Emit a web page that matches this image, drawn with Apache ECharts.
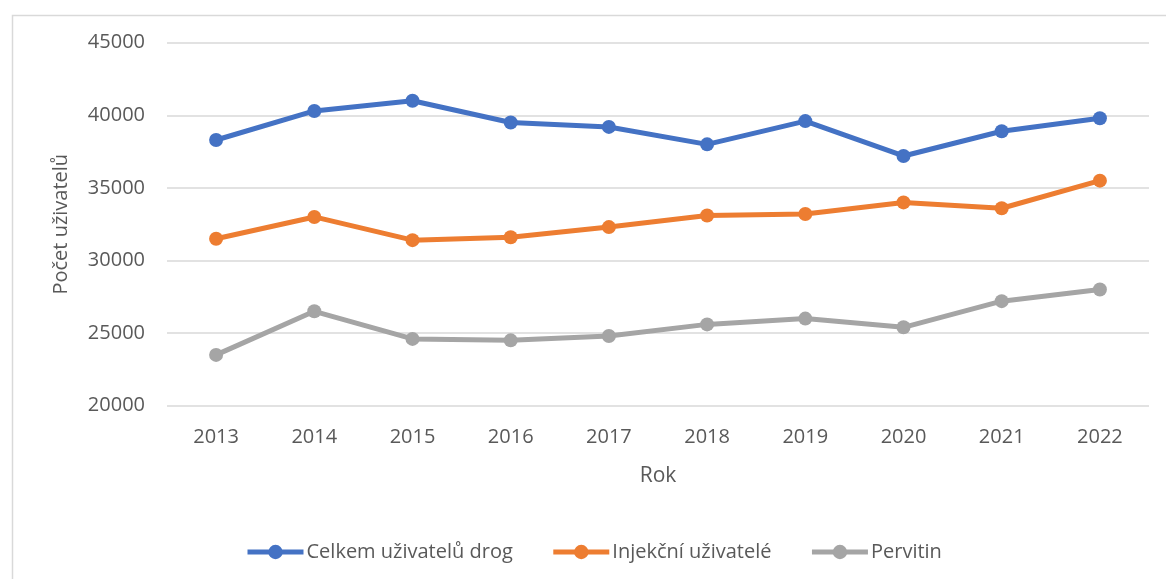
<!DOCTYPE html>
<html>
<head>
<meta charset="utf-8">
<script src="https://cdn.jsdelivr.net/npm/echarts@6/dist/echarts.min.js"></script>
<style>
html,body{margin:0;padding:0;background:#fff;}
#chart{width:1166px;height:579px;}
</style>
</head>
<body>
<div id="chart"></div>
<script>
const years = ['2013','2014','2015','2016','2017','2018','2019','2020','2021','2022'];
const celkem = [38300, 40300, 41000, 39500, 39200, 38000, 39600, 37200, 38900, 39800];
const injekcni = [31500, 33000, 31400, 31600, 32300, 33100, 33200, 34000, 33600, 35500];
const pervitin = [23500, 26500, 24600, 24500, 24800, 25600, 26000, 25400, 27200, 28000];
const seriesNames = ['Celkem uživatelů drog', 'Injekční uživatelé', 'Pervitin'];
const colors = ['#4472C4', '#ED7D31', '#A5A5A5'];

const font = 'Open Sans';
const txt = '#595959';
const chart = echarts.init(document.getElementById('chart'), null, {renderer: 'canvas'});

function mk(name, data, color) {
  return {
    name: name, type: 'line', data: data,
    symbol: 'circle', symbolSize: 14,
    itemStyle: {color: color},
    lineStyle: {color: color, width: 5},
    emphasis: {disabled: true},
    animation: false
  };
}

chart.setOption({
  backgroundColor: '#fff',
  animation: false,
  graphic: [{
    type: 'rect', left: 10, top: 13, silent: true,
    shape: {width: 1200, height: 700},
    style: {fill: 'none', stroke: '#D9D9D9', lineWidth: 1.5}
  }],
  grid: {left: 167, right: 17, top: 42.7, bottom: 173.3, containLabel: false},
  legend: {
    left: 240, top: 537,
    itemWidth: 56, itemHeight: 18, itemGap: 38,
    lineStyle: {width: 5},
    textStyle: {fontFamily: font, fontSize: 20, color: txt, padding: [0,0,0,-2]},
    data: seriesNames
  },
  xAxis: {
    type: 'category', data: years, boundaryGap: true,
    name: 'Rok', nameLocation: 'middle', nameGap: 60,
    nameTextStyle: {fontFamily: font, fontSize: 21, color: txt},
    axisLine: {show: false}, axisTick: {show: false},
    axisLabel: {fontFamily: font, fontSize: 20, color: txt, margin: 22}
  },
  yAxis: {
    type: 'value', min: 20000, max: 45000, interval: 5000,
    name: 'Počet uživatelů', nameLocation: 'middle', nameGap: 96,
    nameTextStyle: {fontFamily: font, fontSize: 20, color: txt},
    axisLine: {show: false}, axisTick: {show: false},
    axisLabel: {fontFamily: font, fontSize: 20, color: txt, margin: 22,
      formatter: function (v) { return String(v); }},
    splitLine: {lineStyle: {color: '#D9D9D9', width: 1.5}}
  },
  series: [
    mk(seriesNames[0], celkem, colors[0]),
    mk(seriesNames[1], injekcni, colors[1]),
    mk(seriesNames[2], pervitin, colors[2])
  ]
});
</script>
</body>
</html>
